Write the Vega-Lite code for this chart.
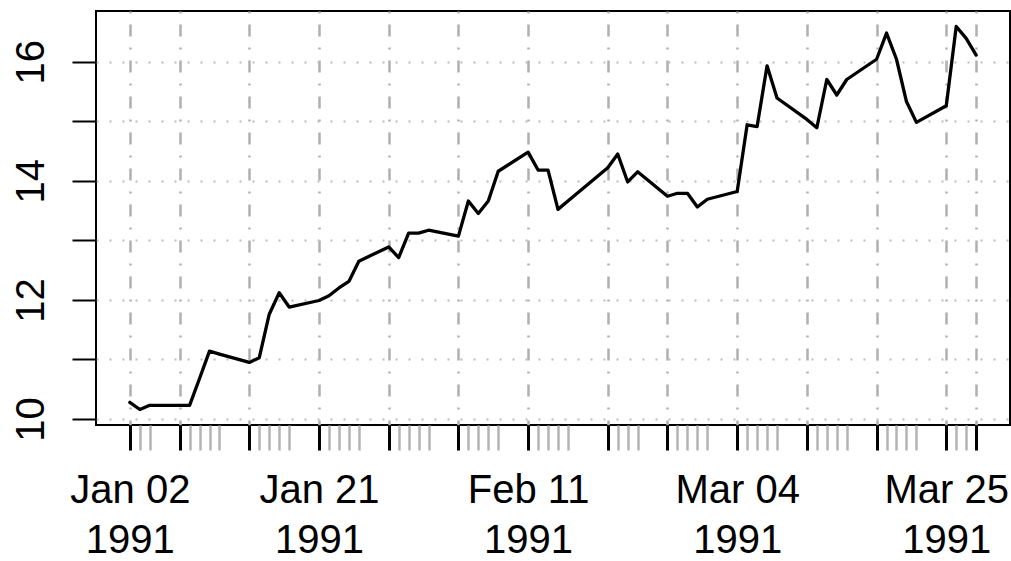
{
  "$schema": "https://vega.github.io/schema/vega-lite/v6.json",
  "width": 914,
  "height": 414,
  "autosize": "none",
  "padding": {"left": 96, "top": 11, "right": 1, "bottom": 136},
  "background": "white",
  "config": {
    "view": {"stroke": "black", "strokeWidth": 2},
    "font": "Liberation Sans"
  },
  "data": {
    "values": [
      {"date": "1991-01-02", "price": 10.28},
      {"date": "1991-01-03", "price": 10.16},
      {"date": "1991-01-04", "price": 10.23},
      {"date": "1991-01-07", "price": 10.23},
      {"date": "1991-01-08", "price": 10.23},
      {"date": "1991-01-09", "price": 10.68},
      {"date": "1991-01-10", "price": 11.14},
      {"date": "1991-01-11", "price": 11.09},
      {"date": "1991-01-14", "price": 10.95},
      {"date": "1991-01-15", "price": 11.03},
      {"date": "1991-01-16", "price": 11.76},
      {"date": "1991-01-17", "price": 12.12},
      {"date": "1991-01-18", "price": 11.88},
      {"date": "1991-01-21", "price": 11.99},
      {"date": "1991-01-22", "price": 12.07},
      {"date": "1991-01-23", "price": 12.20},
      {"date": "1991-01-24", "price": 12.31},
      {"date": "1991-01-25", "price": 12.65},
      {"date": "1991-01-28", "price": 12.89},
      {"date": "1991-01-29", "price": 12.71},
      {"date": "1991-01-30", "price": 13.12},
      {"date": "1991-01-31", "price": 13.12},
      {"date": "1991-02-01", "price": 13.17},
      {"date": "1991-02-04", "price": 13.07},
      {"date": "1991-02-05", "price": 13.66},
      {"date": "1991-02-06", "price": 13.45},
      {"date": "1991-02-07", "price": 13.66},
      {"date": "1991-02-08", "price": 14.16},
      {"date": "1991-02-11", "price": 14.48},
      {"date": "1991-02-12", "price": 14.18},
      {"date": "1991-02-13", "price": 14.18},
      {"date": "1991-02-14", "price": 13.52},
      {"date": "1991-02-15", "price": 13.66},
      {"date": "1991-02-19", "price": 14.22},
      {"date": "1991-02-20", "price": 14.45},
      {"date": "1991-02-21", "price": 13.98},
      {"date": "1991-02-22", "price": 14.15},
      {"date": "1991-02-25", "price": 13.74},
      {"date": "1991-02-26", "price": 13.79},
      {"date": "1991-02-27", "price": 13.79},
      {"date": "1991-02-28", "price": 13.56},
      {"date": "1991-03-01", "price": 13.69},
      {"date": "1991-03-04", "price": 13.82},
      {"date": "1991-03-05", "price": 14.94},
      {"date": "1991-03-06", "price": 14.91},
      {"date": "1991-03-07", "price": 15.93},
      {"date": "1991-03-08", "price": 15.39},
      {"date": "1991-03-11", "price": 15.03},
      {"date": "1991-03-12", "price": 14.89},
      {"date": "1991-03-13", "price": 15.70},
      {"date": "1991-03-14", "price": 15.44},
      {"date": "1991-03-15", "price": 15.70},
      {"date": "1991-03-18", "price": 16.04},
      {"date": "1991-03-19", "price": 16.48},
      {"date": "1991-03-20", "price": 16.04},
      {"date": "1991-03-21", "price": 15.33},
      {"date": "1991-03-22", "price": 14.98},
      {"date": "1991-03-25", "price": 15.26},
      {"date": "1991-03-26", "price": 16.59},
      {"date": "1991-03-27", "price": 16.39},
      {"date": "1991-03-28", "price": 16.11}
    ]
  },
  "mark": {"type": "line", "color": "black", "strokeWidth": 3.3, "strokeJoin": "round", "strokeCap": "round"},
  "encoding": {
    "x": {
      "field": "date",
      "type": "temporal",
      "title": null,
      "scale": {
        "type": "utc",
        "domain": [
          {"year": 1990, "month": 12, "date": 29, "hours": 14, "minutes": 24, "utc": true},
          {"year": 1991, "month": 3, "date": 31, "hours": 9, "minutes": 36, "utc": true}
        ],
        "nice": false
      },
      "axis": {
        "values": {"expr": "[utc(1991,0,2),utc(1991,0,3),utc(1991,0,4),utc(1991,0,7),utc(1991,0,8),utc(1991,0,9),utc(1991,0,10),utc(1991,0,11),utc(1991,0,14),utc(1991,0,15),utc(1991,0,16),utc(1991,0,17),utc(1991,0,18),utc(1991,0,21),utc(1991,0,22),utc(1991,0,23),utc(1991,0,24),utc(1991,0,25),utc(1991,0,28),utc(1991,0,29),utc(1991,0,30),utc(1991,0,31),utc(1991,1,1),utc(1991,1,4),utc(1991,1,5),utc(1991,1,6),utc(1991,1,7),utc(1991,1,8),utc(1991,1,11),utc(1991,1,12),utc(1991,1,13),utc(1991,1,14),utc(1991,1,15),utc(1991,1,19),utc(1991,1,20),utc(1991,1,21),utc(1991,1,22),utc(1991,1,25),utc(1991,1,26),utc(1991,1,27),utc(1991,1,28),utc(1991,2,1),utc(1991,2,4),utc(1991,2,5),utc(1991,2,6),utc(1991,2,7),utc(1991,2,8),utc(1991,2,11),utc(1991,2,12),utc(1991,2,13),utc(1991,2,14),utc(1991,2,15),utc(1991,2,18),utc(1991,2,19),utc(1991,2,20),utc(1991,2,21),utc(1991,2,22),utc(1991,2,25),utc(1991,2,26),utc(1991,2,27),utc(1991,2,28)]"},
        "labelExpr": "indexof([utc(1991,0,2),utc(1991,0,21),utc(1991,1,11),utc(1991,2,4),utc(1991,2,25)], time(datum.value)) >= 0 ? [utcFormat(datum.value, '%b %d'), utcFormat(datum.value, '%Y')] : ''",
        "labelFont": "Liberation Sans",
        "labelFontSize": 40,
        "labelColor": "black",
        "labelLineHeight": 50,
        "labelPadding": 20,
        "labelFlush": false,
        "labelOverlap": false,
        "labelBound": false,
        "labelAngle": 0,
        "labelAlign": "center",
        "labelBaseline": "top",
        "domain": false,
        "tickSize": 25,
        "tickColor": {"condition": {"test": "indexof([utc(1991,0,2),utc(1991,0,7),utc(1991,0,14),utc(1991,0,21),utc(1991,0,28),utc(1991,1,4),utc(1991,1,11),utc(1991,1,19),utc(1991,1,25),utc(1991,2,4),utc(1991,2,11),utc(1991,2,18),utc(1991,2,25),utc(1991,2,28)], time(datum.value)) >= 0", "value": "black"}, "value": "#b4b4b4"},
        "tickWidth": {"condition": {"test": "indexof([utc(1991,0,2),utc(1991,0,7),utc(1991,0,14),utc(1991,0,21),utc(1991,0,28),utc(1991,1,4),utc(1991,1,11),utc(1991,1,19),utc(1991,1,25),utc(1991,2,4),utc(1991,2,11),utc(1991,2,18),utc(1991,2,25),utc(1991,2,28)], time(datum.value)) >= 0", "value": 3}, "value": 2.5},
        "grid": true,
        "gridColor": "#b0b0b0",
        "gridWidth": 2.5,
        "gridDash": [2, 11, 12, 11],
        "gridOpacity": {"condition": {"test": "indexof([utc(1991,0,2),utc(1991,0,7),utc(1991,0,14),utc(1991,0,21),utc(1991,0,28),utc(1991,1,4),utc(1991,1,11),utc(1991,1,19),utc(1991,1,25),utc(1991,2,4),utc(1991,2,11),utc(1991,2,18),utc(1991,2,25),utc(1991,2,28)], time(datum.value)) >= 0", "value": 1}, "value": 0}
      }
    },
    "y": {
      "field": "price",
      "type": "quantitative",
      "title": null,
      "scale": {"domain": [9.9, 16.85], "nice": false, "zero": false},
      "axis": {
        "values": [10, 11, 12, 13, 14, 15, 16],
        "labelExpr": "datum.value % 2 == 0 ? datum.label : ''",
        "labelFont": "Liberation Sans",
        "labelFontSize": 40,
        "labelColor": "black",
        "labelAngle": 270,
        "labelAlign": "center",
        "labelBaseline": "alphabetic",
        "labelPadding": 29,
        "labelOverlap": false,
        "labelFlush": false,
        "labelBound": false,
        "domain": false,
        "tickSize": 24,
        "tickColor": "black",
        "tickWidth": 2,
        "grid": true,
        "gridColor": "#bcbcbc",
        "gridWidth": 2,
        "gridDash": [2, 11]
      }
    }
  }
}
